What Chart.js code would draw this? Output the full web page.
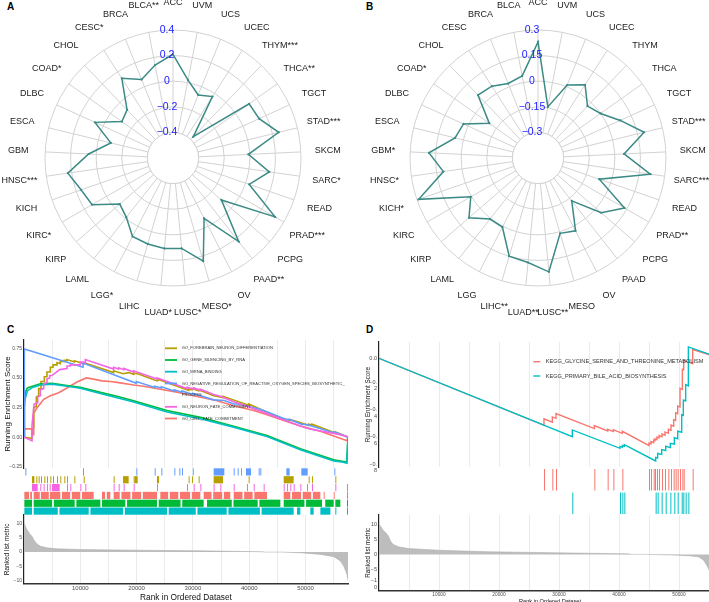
<!DOCTYPE html>
<html lang="en">
<head>
<meta charset="UTF-8">
<title>Radar and GSEA panels</title>
<style>
  body { margin: 0; width: 709px; height: 602px; overflow: hidden; background: #fff; position: relative;
         font-family: "Liberation Sans", Arial, sans-serif; }
  canvas { position: absolute; }
  .tag { position: absolute; font-weight: bold; font-size: 10px; line-height: 10px; color: #000; }
</style>
</head>
<body>
<div class="tag" style="left:7px;top:2px">A</div>
<div class="tag" style="left:366px;top:2px">B</div>
<div class="tag" style="left:7px;top:325px">C</div>
<div class="tag" style="left:366px;top:325px">D</div>
<canvas id="radarA"></canvas>
<canvas id="radarB"></canvas>
<canvas id="esC"></canvas>
<canvas id="rugC"></canvas>
<canvas id="metricC"></canvas>
<canvas id="esD"></canvas>
<canvas id="rugD"></canvas>
<canvas id="metricD"></canvas>
<script src="https://cdn.jsdelivr.net/npm/chart.js"></script>
<script>
// ---------- radar data (A, B) ----------
const labelsA = ['ACC','UVM','UCS','UCEC','THYM***','THCA**','TGCT','STAD***','SKCM','SARC*','READ','PRAD***',
  'PCPG','PAAD**','OV','MESO*','LUSC*','LUAD*','LIHC','LGG*','LAML','KIRP','KIRC*','KICH','HNSC***','GBM',
  'ESCA','DLBC','COAD*','CHOL','CESC*','BRCA','BLCA**'];
const valuesA = [0.21, 0.02, -0.07, -0.03, -0.37, 0.13, 0.14, 0.25, -0.01, 0.16, 0.03, 0.32,
  -0.10, 0.23, -0.07, 0.24, 0.11, 0.11, 0.10, 0.09, -0.01, -0.05, 0.13, 0.16, 0.23, 0.06,
  -0.10, 0.07, -0.11, -0.08, 0.14, 0.06, 0.14];
const ticksA = [0.4, 0.2, 0, -0.2, -0.4];

const labelsB = ['ACC','UVM','UCS','UCEC','THYM','THCA','TGCT','STAD***','SKCM','SARC***','READ','PRAD**',
  'PCPG','PAAD','OV','MESO','LUSC**','LUAD**','LIHC**','LGG','LAML','KIRP','KIRC','KICH*','HNSC*','GBM*',
  'ESCA','DLBC','COAD*','CHOL','CESC','BRCA','BLCA'];
const valuesB = [0.23, -0.145, 0.01, 0.06, -0.03, 0.0, 0.08, 0.19, 0.055, 0.215, -0.07, 0.135,
  0.04, -0.13, 0.03, 0.01, 0.22, 0.165, 0.15, 0.005, 0.005, 0.085, 0.005, 0.29, 0.11, 0.19,
  0.05, 0.03, -0.10, 0.06, 0.05, 0.02, 0.04];
const ticksB = [0.3, 0.15, 0, -0.15, -0.3];

// ---------- panel C: running enrichment score, [rank, ES] ----------
const esCellFate = [[0,0],[60,0],[60,0.07],[1420,0.07],[1420,0.02],[1720,0.02],[1720,0.2],[2190,0.24],[3490,0.32],
  [4680,0.35],[6160,0.375],[7640,0.415],[9410,0.465],[11070,0.5],[12370,0.49],[13850,0.475],[15330,0.47],
  [16810,0.46],[19480,0.44],[21250,0.43],[24210,0.405],[27170,0.38],[30130,0.35],[33680,0.315],[37240,0.265],
  [40790,0.225],[43160,0.19],[46120,0.14],[49080,0.095],[52630,0.05],[55000,0.01],[57360,-0.03],[57540,0]];
const esForebrain = [[0,0],[1420,-0.01],[1420,0.07],[1720,0.08],[1720,0.25],[2190,0.26],[2190,0.34],[2600,0.35],
  [2600,0.41],[3020,0.41],[3020,0.47],[3610,0.47],[3610,0.51],[4080,0.51],[4080,0.55],[4680,0.55],[4680,0.59],
  [5150,0.59],[5150,0.61],[5860,0.61],[5860,0.63],[6450,0.62],[6450,0.64],[7160,0.64],[7160,0.65],[7640,0.645],
  [7640,0.655],[8940,0.635],[8940,0.645],[10600,0.62],[10600,0.63],[15920,0.545],[15920,0.56],[17580,0.535],
  [18590,0.545],[19480,0.53],[19480,0.54],[20190,0.535],[23620,0.475],[23980,0.485],[29240,0.395],[29240,0.405],
  [29840,0.4],[29840,0.41],[31020,0.39],[31020,0.4],[33680,0.35],[35340,0.335],[35340,0.345],[39900,0.27],
  [39900,0.28],[46120,0.15],[47890,0.14],[50560,0.1],[50560,0.11],[51150,0.1],[51150,0.11],[55290,0.035],
  [55290,0.045],[57540,0]];
const esSilencing = [[0,0],[60,0.25],[240,0.38],[600,0.415],[1500,0.43],[2900,0.45],[5000,0.455],[7640,0.436],
  [10000,0.42],[13560,0.378],[16500,0.345],[19480,0.308],[25400,0.225],[31320,0.167],[37240,0.093],
  [43160,0.015],[49080,-0.097],[55000,-0.19],[57300,-0.21],[57540,0]];
const esMrna = [[0,0],[60,0.3],[240,0.33],[600,0.39],[1500,0.42],[2900,0.44],[5000,0.448],[7640,0.43],
  [10000,0.413],[13560,0.368],[19480,0.297],[25400,0.212],[31320,0.155],[37240,0.085],[43160,0.005],
  [49080,-0.105],[55000,-0.2],[56500,-0.21],[57360,-0.22],[57360,-0.19],[57540,0]];
const esNegReg = [[0,0],[60,0],[60,0.744],[10480,0.59],[10480,0.625],[19950,0.455],[19950,0.47],[23210,0.42],
  [23210,0.43],[24390,0.415],[24390,0.425],[26700,0.39],[26700,0.4],[28060,0.38],[28060,0.39],[29960,0.36],
  [29960,0.37],[33680,0.315],[35580,0.31],[37240,0.28],[37950,0.28],[38540,0.275],[40320,0.255],[41970,0.235],
  [46590,0.15],[47180,0.15],[49250,0.11],[50380,0.105],[55110,0.035],[55110,0.045],[57540,0]];
const esNeuronFate = [[0,0],[1420,-0.03],[1420,0.1],[1800,0.28],[2430,0.29],[2430,0.34],[2900,0.35],[2900,0.4],
  [3490,0.41],[3490,0.45],[4080,0.46],[4080,0.49],[4560,0.5],[4560,0.52],[4970,0.52],[6330,0.57],[7640,0.58],
  [7640,0.6],[8230,0.6],[8230,0.61],[10000,0.61],[10000,0.635],[10890,0.63],[10890,0.655],[15920,0.575],
  [15920,0.59],[16810,0.575],[16810,0.585],[17700,0.57],[17700,0.58],[19480,0.55],[19480,0.56],[23620,0.49],
  [23620,0.5],[28950,0.41],[28950,0.42],[30130,0.405],[30130,0.415],[31320,0.395],[31320,0.405],[33680,0.36],
  [34870,0.345],[37240,0.3],[39600,0.26],[40790,0.24],[42560,0.21],[46120,0.145],[47890,0.115],[49080,0.095],
  [50260,0.075],[51150,0.065],[55290,0.03],[57360,0.005],[57540,0]];

// hit positions (rank), single hits or [from, to] runs of hits
const rugNegReg = [240,10480,19950,23210,24390,26700,27590,28060,29960,[33680,35580],37240,37950,38540,
  [39430,40320],41680,41970,[46590,47180],[49250,50380],55110];
const rugForebrain = [[1420,1840],2190,2600,3020,3610,4080,4680,5150,5860,6450,7160,7640,8940,10600,15920,
  [17580,18590],19480,[19650,20190],[23620,23980],29240,29840,31020,[33680,35340],39900,[46120,47890],
  50560,51150,55290];
const rugNeuronFate = [[1420,2430],2900,3490,4080,4560,[4970,6330],7640,8230,10000,10890,15920,16810,17700,
  19480,23620,28950,30130,31320,33680,34870,37240,39600,40790,42560,46120,46710,47300,47890,49080,50260,
  51150,55290,57360];
const rugCellFate = [[60,900],[1100,1420],[1720,2800],[3000,4400],[4600,6450],[6750,8200],[8500,10000],
  [10300,12370],[13850,14400],[14700,15330],[15920,17000],[17300,18900],[19200,20800],[21100,23620],
  [24210,25600],[25900,27400],[27700,29500],[29800,31320],[31910,33300],[33600,35200],[35500,36640],
  [37240,38800],[39100,40600],[40900,43160],[46120,47300],[47600,49200],[49500,51000],[51300,52630],
  53220,55000,57360];
const rugSilencing = [[60,1420],[1720,5000],[5300,9000],[9300,13560],[13850,18000],[18300,23620],
  [23920,27800],[28100,31910],[32500,36900],[37200,41500],[41800,45530],[46120,49800],[50100,52920],
  [53500,55000],[55290,56180],57360];
const rugMrna = [[60,1420],[1720,6000],[6300,11500],[11800,17600],[17900,25400],[25690,30500],[30800,36000],
  [36300,41900],[42200,47890],[48480,49080],[50850,51440],[52630,54410],55290,57360];

const metricC = [[0,10.2],[530,7.9],[1120,6.2],[1420,5.6],[1720,4.4],[2310,2.9],[2900,2.1],[4080,1.5],
  [5860,1.16],[10000,0.93],[19480,0.7],[31320,0.47],[42560,0.1],[42600,0],[45820,0],[49080,-0.23],
  [52630,-0.8],[55000,-1.6],[56180,-3.1],[56770,-4.9],[57360,-7.8],[57540,-10.1]];

// ---------- panel D ----------
const esGlycine = [[0,0],[27500,-0.491],[27500,-0.443],[28890,-0.468],[28890,-0.43],[29500,-0.44],
  [29500,-0.405],[35890,-0.515],[35890,-0.493],[38110,-0.532],[38110,-0.52],[39060,-0.537],[39060,-0.524],
  [40560,-0.55],[40560,-0.535],[45000,-0.64],[45000,-0.622],[45330,-0.628],[45330,-0.61],[45780,-0.618],
  [45780,-0.6],[46000,-0.604],[46000,-0.59],[46330,-0.596],[46330,-0.578],[46670,-0.584],[46670,-0.566],
  [47170,-0.575],[47170,-0.555],[47670,-0.564],[47670,-0.54],[48220,-0.55],[48220,-0.52],[48670,-0.528],
  [48670,-0.49],[49110,-0.498],[49110,-0.45],[49440,-0.456],[49440,-0.4],[49780,-0.406],[49780,-0.35],
  [50170,-0.357],[50170,-0.22],[50560,-0.227],[50560,-0.08],[50780,-0.084],[50780,-0.015],[52280,-0.04],
  [52280,0.065],[57000,0]];
const esBile = [[0,0],[32220,-0.575],[32220,-0.525],[40170,-0.66],[40170,-0.648],[40560,-0.652],
  [40560,-0.64],[40890,-0.645],[40890,-0.633],[46110,-0.753],[46110,-0.727],[46440,-0.732],[46440,-0.698],
  [47110,-0.705],[47110,-0.669],[47780,-0.676],[47780,-0.645],[48560,-0.655],[48560,-0.623],[49220,-0.63],
  [49220,-0.582],[49780,-0.59],[49780,-0.534],[50450,-0.542],[50450,-0.414],[50720,-0.419],[50720,-0.306],
  [51110,-0.313],[51110,-0.193],[51560,-0.202],[51560,0.084],[55000,0.031],[57000,0]];
const rugGlycine = [27500,28890,29500,35890,38110,39060,40560,45000,45330,45780,46000,46330,46670,47170,
  47670,48220,48670,49110,49440,49780,50170,50560,50780,52280];
const rugBile = [32220,40170,40560,40890,46110,46440,47110,47780,48560,49220,49780,50450,50720,51110,51560];
const metricD = [[0,10],[170,9.8],[720,8.1],[1280,7],[1560,6.2],[2000,4.2],[2390,3.3],[3220,2.6],
  [4890,2],[9890,1.4],[18220,0.9],[29330,0.55],[41560,0.2],[42000,0],[44330,0],[48780,-0.2],[51560,-0.45],
  [53220,-0.8],[54060,-1.9],[54610,-3.6],[55000,-5.2],[56000,-9],[57000,-12]];

// ---------- helpers ----------
const FONT = '"Liberation Sans", Arial, sans-serif';
const TEAL = '#3b8a86';
const RADAR_GRID = '#d2d2d2';
const GSEA_GRID = '#ebebeb';
Chart.defaults.font.family = FONT;

function place(id, left, top, width, height) {
  const c = document.getElementById(id);
  c.width = width; c.height = height;
  c.style.left = left + 'px'; c.style.top = top + 'px';
  return c;
}
const toXY = pairs => pairs.map(p => ({ x: p[0], y: p[1] }));
const fixWidth = w => s => { s.width = w; };
const fixHeight = h => s => { s.height = h; };
const minusSign = v => String(v).replace('-', '\u2212');
// vertical grid every 5000 ranks (major + minor, as in the original theme)
const rankGrid = s => {
  const t = [];
  for (let v = 5000; v < s.max; v += 5000) t.push({ value: v });
  s.ticks = t;
};
const rankLabel = v => (v % 10000 === 0 ? String(v) : '');

const radarDecor = {
  id: 'radarDecor',
  beforeDatasetsDraw(chart, args, o) {
    const r = chart.scales.r, ctx = chart.ctx;
    const rin = r.getDistanceFromCenterForValue(o.inner);
    ctx.save();
    ctx.fillStyle = '#fff';
    ctx.beginPath(); ctx.arc(r.xCenter, r.yCenter, rin, 0, Math.PI * 2); ctx.fill();
    ctx.strokeStyle = RADAR_GRID; ctx.lineWidth = 1;
    ctx.beginPath(); ctx.arc(r.xCenter, r.yCenter, rin, 0, Math.PI * 2); ctx.stroke();
    ctx.restore();
  },
  afterDraw(chart, args, o) {
    const r = chart.scales.r, ctx = chart.ctx;
    ctx.save();
    ctx.textAlign = 'center'; ctx.textBaseline = 'middle';
    ctx.font = '9px ' + FONT; ctx.fillStyle = '#1a1a1a';
    chart.data.labels.forEach((t, i) => {
      const p = r.getPointPosition(i, r.drawingArea + o.labelGap);
      ctx.fillText(t, p.x, p.y);
    });
    ctx.font = '10.5px ' + FONT; ctx.fillStyle = '#2020ff';
    o.ticks.forEach(v => {
      ctx.fillText(minusSign(v), r.xCenter - 6, r.yCenter - r.getDistanceFromCenterForValue(v));
    });
    ctx.restore();
  }
};

function radarConfig(labels, values, min, max, step, ticks, pad) {
  return {
    type: 'radar',
    data: { labels: labels, datasets: [{ data: values, borderColor: TEAL, borderWidth: 1.5,
      pointRadius: 1.1, pointBorderWidth: 0, pointBackgroundColor: TEAL, fill: false }] },
    options: {
      responsive: false, animation: false,
      layout: { padding: pad },
      plugins: { legend: { display: false }, tooltip: { enabled: false },
        radarDecor: { inner: ticks[ticks.length - 1], ticks: ticks, labelGap: 27 } },
      scales: { r: { min: min, max: max, ticks: { stepSize: step, display: false },
        pointLabels: { display: false },
        grid: { color: RADAR_GRID, circular: true, lineWidth: 1 },
        angleLines: { color: RADAR_GRID, lineWidth: 1 } } }
    },
    plugins: [radarDecor]
  };
}

new Chart(place('radarA', 0, 0, 355, 320),
  radarConfig(labelsA, valuesA, -0.6, 0.4, 0.2, ticksA, { left: 45, top: 30, right: 53, bottom: 33 }));
new Chart(place('radarB', 355, 0, 354, 320),
  radarConfig(labelsB, valuesB, -0.45, 0.3, 0.15, ticksB, { left: 55, top: 30, right: 42, bottom: 33 }));

const gseaLegend = {
  id: 'gseaLegend',
  afterDraw(chart, args, o) {
    const ctx = chart.ctx;
    ctx.save();
    ctx.font = o.size + 'px ' + FONT;
    ctx.textBaseline = 'middle'; ctx.textAlign = 'left';
    let row = 0;
    o.order.forEach(i => {
      const ds = chart.data.datasets[i];
      const y = o.y + row * o.gap;
      ctx.strokeStyle = ds.borderColor; ctx.lineWidth = o.keyWidth;
      ctx.beginPath(); ctx.moveTo(o.x, y); ctx.lineTo(o.x + o.keyLen, y); ctx.stroke();
      ctx.fillStyle = '#333';
      const lines = [];
      for (let s = 0; s < ds.label.length; s += o.wrap) lines.push(ds.label.slice(s, s + o.wrap));
      lines.forEach((t, k) => ctx.fillText(t, o.x + o.keyLen + o.pad, y + k * o.gap));
      row += lines.length;
    });
    ctx.restore();
  }
};

// ---------- panel C ----------
const setsC = [
  { name: 'GO_CELL_FATE_COMMITMENT', color: '#F8766D', es: esCellFate, rug: rugCellFate },
  { name: 'GO_FOREBRAIN_NEURON_DIFFERENTIATION', color: '#B79F00', es: esForebrain, rug: rugForebrain },
  { name: 'GO_GENE_SILENCING_BY_RNA', color: '#00BA38', es: esSilencing, rug: rugSilencing },
  { name: 'GO_MRNA_BINDING', color: '#00BFC4', es: esMrna, rug: rugMrna },
  { name: 'GO_NEGATIVE_REGULATION_OF_REACTIVE_OXYGEN_SPECIES_BIOSYNTHETIC_PROCESS', color: '#619CFF', es: esNegReg, rug: rugNegReg },
  { name: 'GO_NEURON_FATE_COMMITMENT', color: '#F564E3', es: esNeuronFate, rug: rugNeuronFate }
];
const rugRowsC = [4, 1, 5, 0, 2, 3];
const legendOrderC = [1, 2, 3, 4, 5, 0];

function esConfig(sets, xMax, yMin, yMax, yStep, yFmt, sz, pad, legend) {
  return {
    type: 'line',
    data: { datasets: sets.map((s, i) => ({ label: s.name, data: toXY(s.es), borderColor: s.color,
      borderWidth: sz.line, pointRadius: 0, fill: false, tension: 0, order: sets.length - i })) },
    options: {
      responsive: false, animation: false,
      layout: { padding: pad },
      plugins: { legend: { display: false }, tooltip: { enabled: false }, gseaLegend: legend },
      scales: {
        x: { type: 'linear', min: 0, max: xMax, afterFit: fixHeight(0), afterBuildTicks: rankGrid,
          ticks: { display: false },
          border: { display: false }, grid: { color: GSEA_GRID, drawTicks: false } },
        y: { min: yMin, max: yMax, afterFit: fixWidth(sz.axisW),
          ticks: { stepSize: yStep, includeBounds: false, font: { size: sz.tick }, color: '#4d4d4d',
            padding: 2, callback: yFmt },
          grid: { display: false, drawTicks: false }, border: { color: '#222', width: 1.2 },
          title: { display: true, text: 'Running Enrichment Score', font: { size: sz.title }, color: '#111',
            padding: { top: 3, bottom: 1 } } }
      }
    },
    plugins: [gseaLegend]
  };
}

function rugConfig(sets, rows, xMax) {
  const rowNames = rows.map(i => sets[i].name);
  return {
    type: 'bar',
    data: { labels: rowNames, datasets: sets.map(s => ({
      data: s.rug.map(h => ({ x: Array.isArray(h) ? h : [h, h], y: s.name })),
      backgroundColor: s.color, borderWidth: 0, minBarLength: 1, grouped: false,
      categoryPercentage: 0.92, barPercentage: 1 })) },
    options: {
      indexAxis: 'y', responsive: false, animation: false,
      plugins: { legend: { display: false }, tooltip: { enabled: false } },
      scales: { x: { type: 'linear', min: 0, max: xMax, display: false },
        y: { type: 'category', labels: rowNames, display: false } }
    }
  };
}

function metricConfig(pairs, xMax, yMin, yMax, yFmt, sz, pad) {
  return {
    type: 'line',
    data: { datasets: [{ data: toXY(pairs), fill: 'origin', backgroundColor: '#bdbdbd', borderColor: '#a8a8a8',
      borderWidth: 0.5, pointRadius: 0, tension: 0 }] },
    options: {
      responsive: false, animation: false,
      layout: { padding: pad },
      plugins: { legend: { display: false }, tooltip: { enabled: false } },
      scales: {
        x: { type: 'linear', min: 0, max: xMax, afterBuildTicks: rankGrid,
          ticks: { autoSkip: false, maxRotation: 0, font: { size: sz.xtick }, color: '#4d4d4d', padding: 1,
            callback: rankLabel },
          grid: { color: GSEA_GRID, drawTicks: false }, border: { color: '#333', width: 1.5 },
          title: { display: true, text: 'Rank in Ordered Dataset', font: { size: sz.xtitle }, color: '#111',
            padding: 0 } },
        y: { min: yMin, max: yMax, afterFit: fixWidth(sz.axisW),
          ticks: { stepSize: 5, includeBounds: false, font: { size: sz.tick }, color: '#4d4d4d', padding: 2,
            callback: yFmt },
          grid: { display: false, drawTicks: false }, border: { color: '#222', width: 1.2 },
          title: { display: true, text: 'Ranked list metric', font: { size: sz.title }, color: '#111',
            padding: { top: 3, bottom: 1 } } }
      }
    }
  };
}

const xMaxC = 57540;
new Chart(place('esC', 0, 332, 355, 144), esConfig(setsC, xMaxC, -0.26, 0.82, 0.25,
  v => minusSign(v.toFixed(2)), { line: 1.6, axisW: 24, tick: 5, title: 8 },
  { left: 0, right: 7, top: 8, bottom: 8 },
  { x: 165, y: 16.3, gap: 11.7, keyLen: 12, keyWidth: 1.8, pad: 4.7, size: 4.1, wrap: 63, order: legendOrderC }));
new Chart(place('rugC', 24, 468, 324, 47), rugConfig(setsC, rugRowsC, xMaxC));
new Chart(place('metricC', 0, 507, 355, 96), metricConfig(metricC, xMaxC, -11.2, 13.1,
  v => minusSign(v), { axisW: 24, tick: 5, title: 6.5, xtick: 6, xtitle: 8.3 },
  { left: 0, right: 7, top: 8, bottom: 0 }));

// ---------- panel D ----------
const setsD = [
  { name: 'KEGG_GLYCINE_SERINE_AND_THREONINE_METABOLISM', color: '#F8766D', es: esGlycine, rug: rugGlycine },
  { name: 'KEGG_PRIMARY_BILE_ACID_BIOSYNTHESIS', color: '#00BFC4', es: esBile, rug: rugBile }
];
const xMaxD = 57000;
const wrapTick = v => {
  if (v === 0) return '0.0';
  const s = minusSign(v.toFixed(1));
  return [s.slice(0, 3), s.slice(3)];
};
new Chart(place('esD', 355, 334, 370, 142), esConfig(setsD, xMaxD, -0.8, 0.12, 0.2, wrapTick,
  { line: 1.4, axisW: 18, tick: 5.5, title: 6.3 },
  { left: 6, right: 4, top: 8, bottom: 8 },
  { x: 178.3, y: 27.7, gap: 14.3, keyLen: 7, keyWidth: 1.4, pad: 5.4, size: 5.6, wrap: 100, order: [0, 1] }));
new Chart(place('rugD', 379, 468, 342, 47), rugConfig(setsD, [0, 1], xMaxD));
new Chart(place('metricD', 355, 507, 370, 98), metricConfig(metricD, xMaxD, -12.2, 13.3,
  v => (v === -10 ? ['\u22121', '0'] : minusSign(v)),
  { axisW: 18, tick: 5.5, title: 6.3, xtick: 4.8, xtitle: 5.6 },
  { left: 6, right: 4, top: 8, bottom: 0 }));
</script>
</body>
</html>
